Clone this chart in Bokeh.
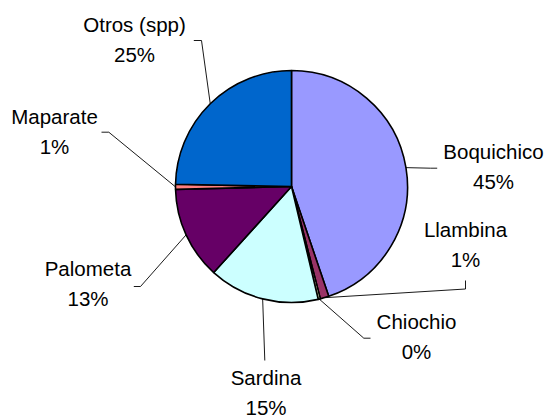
import math
from bokeh.plotting import figure
from bokeh.models import Range1d
from bokeh.core.properties import value
from bokeh.embed import file_html
from bokeh.resources import INLINE

# ---- data ----
categories = ["Boquichico", "Llambina", "Chiochio", "Sardina", "Palometa", "Maparate", "Otros (spp)"]
shares = [44.8, 1.2, 0.3, 15.4, 12.9, 0.7, 24.7]
colors = ["#9999FF", "#993366", "#FFFFCC", "#CCFFFF", "#660066", "#FF8080", "#0066CC"]

# ---- layout (page pixel coords) ----
W, H = 549, 418
CX, CY, R = 291, 186, 116
# label centre (x, y of first line) per category
label_pos = [(493, 151), (465, 229), (416, 321), (265.5, 377.3), (87.5, 268), (54, 115.5), (134, 23.5)]
# leader elbow and end points per category
leader_pts = [
    [(430, 167.7), (436.7, 167.7)],
    [(465, 288.5), (465, 280)],
    [(363.3, 337.7), (370, 337.7)],
    [(264.3, 360)],
    [(140, 286), (133.3, 286)],
    [(108.3, 131.7), (101, 131.7)],
    [(201, 40), (193.3, 40)],
]
LINE_GAP = 30
FONT = "Liberation Sans"
FS = "20.5px"

def Y(py):
    return H - py

p = figure(width=W, height=H, output_backend="svg", toolbar_location=None,
           x_range=Range1d(0, W), y_range=Range1d(0, H), min_border=0)
p.axis.visible = False
p.grid.visible = False
p.outline_line_color = None
p.background_fill_color = "white"
p.border_fill_color = "white"

total = sum(shares)
cum = 0.0
for i, (cat, v, col) in enumerate(zip(categories, shares, colors)):
    t1 = cum / total * 360.0
    t2 = (cum + v) / total * 360.0
    cum += v
    p.wedge(x=CX, y=Y(CY), radius=R,
            start_angle=math.radians(90 - t2), end_angle=math.radians(90 - t1),
            direction="anticlock", fill_color=col, line_color="black", line_width=1.6)
    tm = math.radians((t1 + t2) / 2)
    ax = CX + R * math.sin(tm)
    ay = CY - R * math.cos(tm)
    xs = [ax] + [q[0] for q in leader_pts[i]]
    ys = [Y(ay)] + [Y(q[1]) for q in leader_pts[i]]
    p.line(xs, ys, line_color="#000000", line_width=0.9)
    lx, ly = label_pos[i]
    p.text(x=[lx], y=[Y(ly)], text=[cat], text_align="center", text_baseline="middle",
           text_font=value(FONT), text_font_size=FS, text_color="black")
    p.text(x=[lx], y=[Y(ly + LINE_GAP)], text=[f"{round(v)}%"], text_align="center",
           text_baseline="middle", text_font=value(FONT), text_font_size=FS, text_color="black")

open("out.html", "w").write(file_html(p, INLINE))
